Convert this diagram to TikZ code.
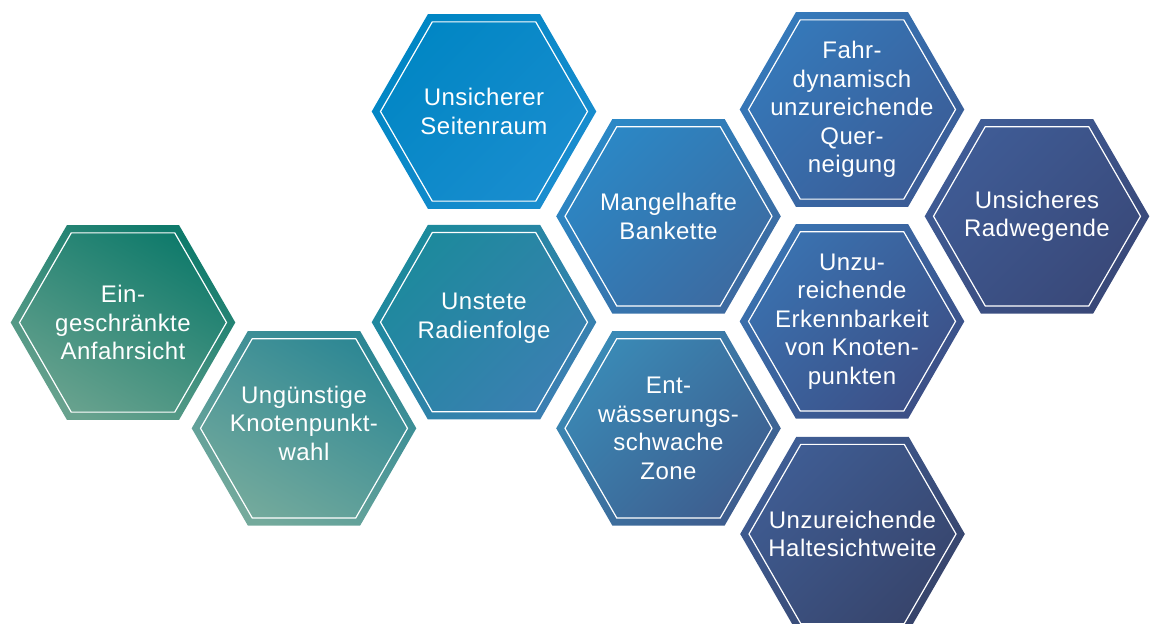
\documentclass[tikz,border=0pt]{standalone}
\usepackage{fontspec}
\setmainfont{Liberation Sans}[LetterSpace=2]
\usetikzlibrary{shapes.geometric}
\definecolor{aTop}{HTML}{0F7A6B}\definecolor{aBot}{HTML}{68A28E}
\definecolor{bTop}{HTML}{2D8794}\definecolor{bBot}{HTML}{74AA9C}
\definecolor{cTop}{HTML}{0086C4}\definecolor{cBot}{HTML}{1A8DCF}
\definecolor{dTop}{HTML}{1C8A9C}\definecolor{dBot}{HTML}{3B7FB2}
\definecolor{eTop}{HTML}{2B88C6}\definecolor{eBot}{HTML}{3D6AA0}
\definecolor{fTop}{HTML}{3A8AB6}\definecolor{fBot}{HTML}{3E5D8E}
\definecolor{gTop}{HTML}{3579BA}\definecolor{gBot}{HTML}{3B5C96}
\definecolor{hTop}{HTML}{3A72B0}\definecolor{hBot}{HTML}{3C4F86}
\definecolor{iTop}{HTML}{3F5D94}\definecolor{iBot}{HTML}{37446B}
\definecolor{jTop}{HTML}{3F5C96}\definecolor{jBot}{HTML}{394878}
\tikzset{
  hexbg/.style={regular polygon, regular polygon sides=6, minimum size=224.6pt,
    inner sep=0pt, outer sep=0pt, shade},
  hexline/.style={regular polygon, regular polygon sides=6, minimum size=207pt,
    inner sep=0pt, draw=white, line width=1.2pt},
  hexlabel/.style={text=white, align=center, inner sep=0pt,
    font=\fontsize{24}{28.5}\selectfont},
  shadetl/.style 2 args={top color=#1, bottom color=#2, shading angle=45},
  shadetr/.style 2 args={top color=#1, bottom color=#2, shading angle=-30},
}
\begin{document}
\begin{tikzpicture}[x=1pt,y=-1pt]
\useasboundingbox (0,0) rectangle (1155,623);
\clip (0,0) rectangle (1155,623);
% hexagon 1
\node[hexbg, shadetr={aTop}{aBot}] (h1) at (123,322.5) {};
\node[hexline] (h1i) at (h1.center) {};
\node[hexlabel] (t1) at (h1.center) {Ein-\\geschränkte\\Anfahrsicht};
% hexagon 2
\node[hexbg, shadetr={bTop}{bBot}] (h2) at (304,428.3) {};
\node[hexline] (h2i) at (h2.center) {};
\node[hexlabel] (t2) at ([yshift=5pt]h2.center) {Ungünstige\\Knotenpunkt-\\wahl};
% hexagon 3
\node[hexbg, shadetl={cTop}{cBot}] (h3) at (484,111.5) {};
\node[hexline] (h3i) at (h3.center) {};
\node[hexlabel] (t3) at (h3.center) {Unsicherer\\Seitenraum};
% hexagon 4
\node[hexbg, shadetl={dTop}{dBot}] (h4) at (484,322.2) {};
\node[hexline] (h4i) at (h4.center) {};
\node[hexlabel] (t4) at ([yshift=4pt]h4.center) {Unstete\\Radienfolge};
% hexagon 5
\node[hexbg, shadetl={eTop}{eBot}] (h5) at (668.5,216.3) {};
\node[hexline] (h5i) at (h5.center) {};
\node[hexlabel] (t5) at (h5.center) {Mangelhafte\\Bankette};
% hexagon 6
\node[hexbg, shadetl={fTop}{fBot}] (h6) at (668.5,428.3) {};
\node[hexline] (h6i) at (h6.center) {};
\node[hexlabel] (t6) at (h6.center) {Ent-\\wässerungs-\\schwache\\Zone};
% hexagon 7
\node[hexbg, shadetl={gTop}{gBot}] (h7) at (852,109.5) {};
\node[hexline] (h7i) at (h7.center) {};
\node[hexlabel] (t7) at (h7.center) {Fahr-\\dynamisch\\unzureichende\\Quer-\\neigung};
% hexagon 8
\node[hexbg, shadetl={hTop}{hBot}] (h8) at (852,321.4) {};
\node[hexline] (h8i) at (h8.center) {};
\node[hexlabel] (t8) at (h8.center) {Unzu-\\reichende\\Erkennbarkeit\\von Knoten-\\punkten};
% hexagon 9
\node[hexbg, shadetl={iTop}{iBot}] (h9) at (852.5,534) {};
\node[hexline] (h9i) at (h9.center) {};
\node[hexlabel] (t9) at (h9.center) {Unzureichende\\Haltesichtweite};
% hexagon 10
\node[hexbg, shadetl={jTop}{jBot}] (h10) at (1037,216.3) {};
\node[hexline] (h10i) at (h10.center) {};
\node[hexlabel] (t10) at (h10.center) {Unsicheres\\Radwegende};
\end{tikzpicture}
\end{document}
